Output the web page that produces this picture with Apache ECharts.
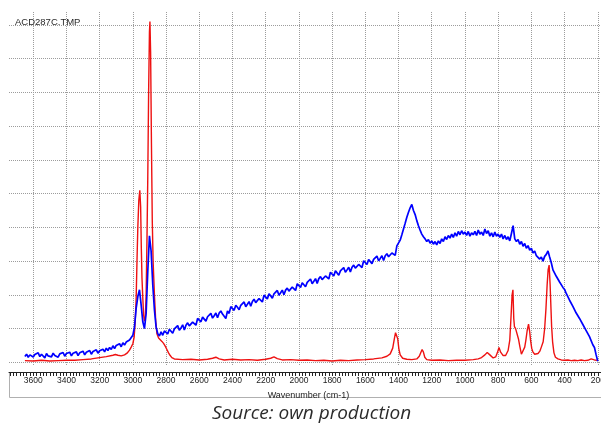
<!DOCTYPE html>
<html>
<head>
<meta charset="utf-8">
<script src="https://cdn.jsdelivr.net/npm/echarts@6/dist/echarts.min.js"></script>
<style>
  html, body { margin: 0; padding: 0; background: #fff; }
  #chart { width: 601px; height: 423px; }
</style>
</head>
<body>
<div id="chart"></div>
<script>
// Raman spectrum ACD287C.TMP : two traces plotted against wavenumber (cm-1)

const SAMPLE_NAME = 'ACD287C.TMP';
const AXIS_TITLE = 'Wavenumber (cm-1)';
const CAPTION = 'Source: own production';

// Labelled wavenumbers on the ruler
const waveTicks = [3600, 3400, 3200, 3000, 2800, 2600, 2400, 2200, 2000, 1800,
                   1600, 1400, 1200, 1000, 800, 600, 400, 200];

// Red trace: [wavenumber, intensity]
const redSpectrum = [
  [3650,0.05],[3600,0.04],[3550,0.06],[3500,0.04],[3450,0.05],[3400,0.06],[3350,0.06],
  [3300,0.08],[3250,0.10],[3200,0.14],[3160,0.17],[3120,0.21],[3105,0.23],[3090,0.21],
  [3070,0.19],[3050,0.22],[3035,0.27],[3020,0.36],[3010,0.45],[3000,0.55],[2992,0.75],
  [2986,1.2],[2980,1.9],[2975,3.0],[2970,4.0],[2964,4.8],[2958,5.1],[2953,4.6],[2949,3.4],
  [2945,2.5],[2940,1.9],[2935,1.4],[2930,1.22],[2925,1.3],[2920,2.0],[2915,3.6],[2910,5.5],
  [2905,8.0],[2900,9.8],[2897,10.1],[2893,9.2],[2888,6.5],[2883,4.2],[2878,3.0],[2870,2.0],
  [2862,1.2],[2855,0.85],[2845,0.72],[2835,0.68],[2825,0.62],[2815,0.56],[2805,0.48],
  [2795,0.38],[2785,0.28],[2775,0.20],[2765,0.14],[2750,0.10],[2700,0.08],[2650,0.09],
  [2600,0.07],[2550,0.09],[2520,0.12],[2500,0.15],[2480,0.10],[2450,0.07],[2400,0.09],
  [2350,0.07],[2300,0.08],[2250,0.06],[2200,0.09],[2170,0.12],[2150,0.16],[2130,0.11],
  [2100,0.07],[2050,0.08],[2000,0.06],[1950,0.07],[1900,0.05],[1850,0.06],[1800,0.04],
  [1750,0.06],[1700,0.05],[1650,0.07],[1600,0.08],[1550,0.10],[1500,0.13],[1470,0.18],
  [1450,0.25],[1435,0.42],[1425,0.70],[1418,0.88],[1412,0.92],[1405,0.70],[1398,0.40],
  [1390,0.22],[1375,0.12],[1350,0.09],[1320,0.08],[1290,0.10],[1275,0.18],[1265,0.30],
  [1258,0.38],[1250,0.30],[1242,0.15],[1230,0.08],[1200,0.06],[1150,0.07],[1100,0.05],
  [1050,0.06],[1000,0.06],[950,0.08],[920,0.10],[900,0.14],[880,0.22],[866,0.29],
  [850,0.22],[830,0.13],[815,0.16],[805,0.28],[795,0.44],[785,0.30],[770,0.20],[755,0.20],
  [740,0.35],[730,0.66],[722,1.4],[716,2.0],[711,2.15],[706,1.3],[702,1.06],[695,1.0],
  [687,0.96],[678,0.70],[669,0.46],[660,0.24],[650,0.28],[640,0.45],[633,0.66],[625,0.95],
  [617,1.13],[610,0.90],[605,0.66],[598,0.42],[591,0.31],[580,0.24],[569,0.22],[560,0.26],
  [549,0.33],[540,0.45],[529,0.61],[520,1.0],[512,1.6],[505,2.3],[499,2.75],[493,2.88],
  [487,2.3],[482,1.6],[478,1.06],[472,0.60],[464,0.28],[455,0.15],[440,0.10],[420,0.07],
  [400,0.06],[380,0.07],[360,0.05],[340,0.06],[320,0.05],[300,0.07],[280,0.05],[260,0.06],
  [240,0.10],[230,0.12],[220,0.07],[210,0.05],[200,0.06]
];

// Blue trace: one reading every 10 cm-1 from 3650 down to 200
const BLUE_START = 3650;
const BLUE_STEP = 10;
const blueValues = [
  0.17,0.24,0.15,0.22,0.27,
  0.16,0.23,0.19,0.28,0.17,0.24,0.20,0.13,0.26,0.19,
  0.23,0.16,0.27,0.20,0.24,0.15,0.25,0.21,0.29,0.18,
  0.26,0.22,0.30,0.19,0.27,0.23,0.31,0.20,0.28,0.25,
  0.33,0.22,0.30,0.26,0.35,0.24,0.32,0.29,0.37,0.27,
  0.34,0.30,0.39,0.31,0.42,0.35,0.44,0.38,0.49,0.41,
  0.50,0.45,0.55,0.46,0.58,0.51,0.60,0.55,0.66,0.62,
  0.80,1.05,1.60,1.95,2.15,1.70,1.20,1.00,1.45,2.70,
  3.75,3.30,2.30,1.55,1.05,0.85,0.78,0.90,0.80,0.93,
  0.92,0.84,0.98,0.93,0.86,0.99,0.94,1.09,0.95,1.02,
  1.11,0.96,1.10,1.17,1.08,1.07,1.19,1.17,1.10,1.30,
  1.28,1.20,1.34,1.29,1.22,1.35,1.30,1.45,1.31,1.38,
  1.46,1.32,1.46,1.52,1.43,1.42,1.30,1.52,1.45,1.65,
  1.62,1.54,1.69,1.63,1.56,1.69,1.65,1.79,1.65,1.72,
  1.80,1.66,1.80,1.87,1.77,1.76,1.89,1.86,1.79,1.99,
  1.96,1.88,2.03,1.97,1.90,2.03,1.98,2.13,1.99,2.06,
  2.14,2.00,2.14,2.20,2.11,2.10,2.23,2.20,2.13,2.33,
  2.30,2.22,2.36,2.31,2.24,2.37,2.32,2.47,2.33,2.40,
  2.48,2.34,2.48,2.54,2.45,2.44,2.56,2.54,2.47,2.67,
  2.64,2.56,2.71,2.65,2.58,2.71,2.66,2.81,2.67,2.74,
  2.82,2.68,2.82,2.88,2.79,2.78,2.90,2.88,2.81,3.01,
  2.98,2.90,3.05,2.99,2.92,3.05,3.00,3.15,3.01,3.08,
  3.16,3.02,3.16,3.22,3.13,3.12,3.24,3.22,3.17,3.45,
  3.50,3.62,3.78,3.95,4.12,4.30,4.45,4.58,4.68,4.50,
  4.38,4.20,4.05,3.92,3.80,3.72,3.66,3.58,3.64,3.53,
  3.60,3.50,3.58,3.48,3.60,3.52,3.66,3.58,3.72,3.64,
  3.76,3.68,3.80,3.70,3.84,3.74,3.88,3.78,3.90,3.80,
  3.86,3.76,3.88,3.74,3.84,3.78,3.88,3.76,3.92,3.80,
  3.86,3.76,3.95,3.82,3.90,3.74,3.84,3.72,3.86,3.74,
  3.80,3.70,3.80,3.66,3.76,3.64,3.72,3.60,3.82,4.05,
  3.66,3.58,3.64,3.50,3.58,3.44,3.52,3.38,3.46,3.32,
  3.38,3.24,3.30,3.16,3.20,3.06,3.12,3.00,3.14,3.20,
  3.30,3.12,2.95,2.74,2.76,2.55,2.56,2.38,2.36,2.22,
  2.16,2.04,2.00,1.84,1.82,1.66,1.64,1.46,1.46,1.30,
  1.28,1.12,1.10,0.94,0.92,0.76,0.72,0.52,0.44,0.22,
  0.03
];

const blueSpectrum = blueValues.map((v, i) => [BLUE_START - i * BLUE_STEP, v]);

const gridColor = '#9c9c9c';
const textFont = '"Liberation Sans", Arial, sans-serif';
const narrowFont = '"Liberation Sans Narrow", "Arial Narrow", "Liberation Sans", sans-serif';

const chart = echarts.init(document.getElementById('chart'), null, { renderer: 'canvas' });

chart.setOption({
  animation: false,
  backgroundColor: '#ffffff',
  title: [
    {
      text: SAMPLE_NAME, left: 10, top: 12.5,
      textStyle: { fontSize: 9.5, fontWeight: 'normal', color: '#2a2a2a', fontFamily: textFont }
    },
    {
      text: CAPTION, left: 207, top: 399,
      textStyle: { fontSize: 19, fontWeight: 'normal', fontStyle: 'italic', color: '#2b2b2b', fontFamily: '"Open Sans", sans-serif' }
    }
  ],
  grid: [
    // intensity grid
    { left: 9, width: 592, top: 25, height: 337.3, containLabel: false, outerBoundsMode: 'none' },
    // spectra + wavenumber grid
    { left: 0, width: 631, top: 12, height: 353, containLabel: false, outerBoundsMode: 'none' },
    // ruler
    { left: 9, width: 622, top: 12, height: 360, containLabel: false, outerBoundsMode: 'none' }
  ],
  xAxis: [
    { gridIndex: 0, type: 'value', min: 0, max: 1, show: false },
    {
      gridIndex: 1, type: 'value', inverse: true, min: 0, max: 3800, interval: 200,
      axisLine: { show: false }, axisTick: { show: false }, axisLabel: { show: false },
      splitLine: { show: true, showMinLine: false, showMaxLine: false,
                   lineStyle: { type: 'dotted', color: gridColor, width: 1 } }
    },
    {
      gridIndex: 2, type: 'value', inverse: true, min: 0, max: 3746, interval: 20,
      axisLine: { show: true, onZero: false, lineStyle: { color: '#222', width: 1 } },
      axisTick: { show: true, length: 4, lineStyle: { color: '#222', width: 1 } },
      axisLabel: {
        show: true, margin: 4, fontSize: 8.5, color: '#222', fontFamily: narrowFont,
        showMaxLabel: false, showMinLabel: false,
        formatter: v => (waveTicks.indexOf(Math.round(v)) >= 0 ? String(Math.round(v)) : '')
      },
      splitLine: { show: false },
      name: AXIS_TITLE, nameLocation: 'middle', nameGap: 19,
      nameTextStyle: { fontSize: 9, color: '#222', fontFamily: narrowFont, padding: [0, 23, 0, 0] }
    }
  ],
  yAxis: [
    {
      gridIndex: 0, type: 'value', min: 0, max: 10, interval: 1,
      axisLine: { show: false }, axisTick: { show: false }, axisLabel: { show: false },
      splitLine: { show: true, lineStyle: { type: 'dotted', color: gridColor, width: 1 } }
    },
    { gridIndex: 1, type: 'value', min: -0.08, max: 10.385, show: false },
    { gridIndex: 2, type: 'value', min: 0, max: 1, show: false }
  ],
  graphic: [
    {
      type: 'polyline', silent: true,
      shape: { points: [[9.5, 372], [9.5, 397.5], [601, 397.5]] },
      style: { stroke: '#b0b0b0', lineWidth: 1, fill: null }
    }
  ],
  series: [
    {
      name: 'red', type: 'line', xAxisIndex: 1, yAxisIndex: 1,
      data: redSpectrum, showSymbol: false, symbol: 'none',
      lineStyle: { color: '#ee1111', width: 1.4 }, z: 3
    },
    {
      name: 'blue', type: 'line', xAxisIndex: 1, yAxisIndex: 1,
      data: blueSpectrum, showSymbol: false, symbol: 'none',
      lineStyle: { color: '#0000ff', width: 1.7 }, z: 4
    }
  ]
});
</script>
</body>
</html>
